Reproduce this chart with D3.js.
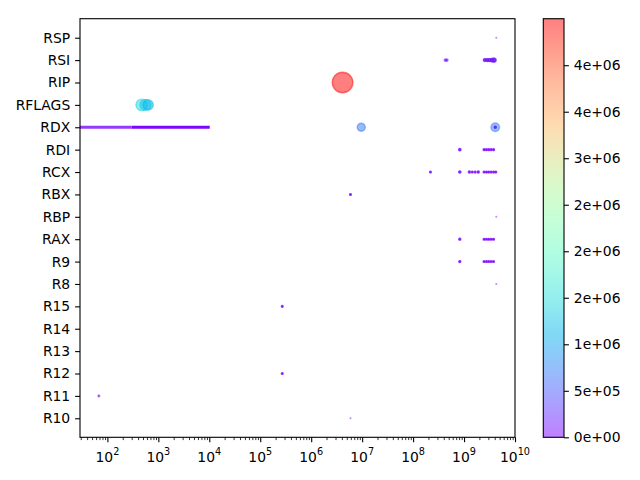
<!DOCTYPE html>
<html>
<head>
<meta charset="utf-8">
<script src="https://cdn.jsdelivr.net/npm/d3@7"></script>
<style>
    body { margin: 0; background: #fff; }
    text { font-family: "DejaVu Sans", sans-serif; fill: #000; }
</style>
</head>
<body>
<svg id="chart" width="640" height="480"></svg>
<script>
// categories, bottom to top
var registers = ["R10", "R11", "R12", "R13", "R14", "R15", "R8", "R9", "RAX",
    "RBP", "RBX", "RCX", "RDI", "RDX", "RFLAGS", "RIP", "RSI", "RSP"];

// [register, address, weight, hits]
var samples = [
    ["RSP", 4.3e9, 5e3, 1],
    ["RSI", 4.3e8, 6e4, 1], ["RSI", 4.6e8, 6e4, 1],
    ["RSI", 2.55e9, 8e4, 2], ["RSI", 2.85e9, 8e4, 2], ["RSI", 3.15e9, 1e5, 2],
    ["RSI", 3.5e9, 1.2e5, 2], ["RSI", 3.8e9, 1.5e5, 2], ["RSI", 3.95e9, 1.5e5, 1],
    ["RIP", 4.13e6, 4.5e6, 1],
    ["RFLAGS", 470, 1.4e6, 1], ["RFLAGS", 560, 1.3e6, 1], ["RFLAGS", 630, 1.15e6, 1],
    ["RDX", 9.6e6, 6.8e5, 1], ["RDX", 4.1e9, 7.8e5, 1], ["RDX", 4.1e9, 5e4, 2],
    ["RDI", 8.25e8, 5e4, 2],
    ["RDI", 2.47e9, 3e4, 2], ["RDI", 2.75e9, 3e4, 2], ["RDI", 3.05e9, 3e4, 2],
    ["RDI", 3.4e9, 3e4, 2], ["RDI", 3.8e9, 3e4, 2],
    ["RCX", 2.19e8, 3e4, 2], ["RCX", 8.25e8, 5e4, 2],
    ["RCX", 1.27e9, 4e4, 2], ["RCX", 1.45e9, 3e4, 2], ["RCX", 1.65e9, 3e4, 2], ["RCX", 1.9e9, 4e4, 2],
    ["RCX", 2.47e9, 3e4, 2], ["RCX", 2.75e9, 3e4, 2], ["RCX", 3.05e9, 3e4, 2],
    ["RCX", 3.4e9, 3e4, 2], ["RCX", 3.8e9, 3e4, 2], ["RCX", 4.2e9, 3e4, 2],
    ["RBX", 5.9e6, 3e4, 2],
    ["RBP", 4.3e9, 5e3, 1],
    ["RAX", 8.25e8, 4e4, 2],
    ["RAX", 2.47e9, 3e4, 2], ["RAX", 2.75e9, 3e4, 2], ["RAX", 3.05e9, 3e4, 2],
    ["RAX", 3.4e9, 3e4, 2], ["RAX", 3.8e9, 3e4, 2],
    ["R9", 8.25e8, 4e4, 2],
    ["R9", 2.47e9, 3e4, 2], ["R9", 2.75e9, 3e4, 2], ["R9", 3.05e9, 3e4, 2],
    ["R9", 3.4e9, 3e4, 2], ["R9", 3.8e9, 3e4, 2],
    ["R8", 4.3e9, 5e3, 1],
    ["R15", 2.7e5, 3e4, 2],
    ["R12", 2.7e5, 3e4, 2],
    ["R11", 68, 3e4, 1],
    ["R10", 5.9e6, 5e3, 1]
];

// dense run of RDX samples at low addresses: [from, to]
var rdxRunLight = [29, 300];
var rdxRunDark = [300, 10200];

var xDomain = [29, 1e10];
var xMajorTicks = [1e2, 1e3, 1e4, 1e5, 1e6, 1e7, 1e8, 1e9, 1e10];
var xTickExponents = ["2", "3", "4", "5", "6", "7", "8", "9", "10"];

var colorMax = 4.5e6;
var colorTicks = [0, 5e5, 1e6, 1.5e6, 2e6, 2.5e6, 3e6, 3.5e6, 4e6];
var colorTickLabels = ["0e+00", "5e+05", "1e+06", "2e+06", "2e+06", "2e+06", "3e+06", "4e+06", "4e+06"];

// matplotlib "rainbow" colormap
function rainbow(t) {
    t = Math.max(0, Math.min(1, t));
    var r = Math.min(1, Math.abs(2 * t - 0.5)),
        g = Math.sin(Math.PI * t),
        b = Math.cos(Math.PI * t / 2);
    return d3.rgb(r * 255, g * 255, Math.max(0, b) * 255).formatHex();
}

// plot box
var plot = {left: 80, right: 515, top: 18.7, bottom: 437.3};
var bar = {left: 543.3, right: 564, top: 18.7, bottom: 437.3};

var svg = d3.select("#chart");

// set the ranges
var x = d3.scaleLog().domain(xDomain).range([plot.left, plot.right]);
var y = d3.scalePoint().domain(registers).range([plot.bottom, plot.top]).padding(0.85);
var r = d3.scaleSqrt().domain([0, colorMax]).range([0, 10.3]);
var c = d3.scaleLinear().domain([0, colorMax]).range([0, 1]);

svg.append("defs").append("clipPath")
    .attr("id", "plotClip")
    .append("rect")
    .attr("x", plot.left).attr("y", plot.top)
    .attr("width", plot.right - plot.left)
    .attr("height", plot.bottom - plot.top);

var marks = svg.append("g").attr("clip-path", "url(#plotClip)");

// the RDX run
marks.append("line")
    .attr("x1", x(rdxRunLight[0])).attr("x2", x(rdxRunLight[1]))
    .attr("y1", y("RDX")).attr("y2", y("RDX"))
    .attr("stroke", rainbow(0.01))
    .attr("stroke-opacity", 0.8)
    .attr("stroke-width", 2.8);
marks.append("line")
    .attr("x1", x(rdxRunDark[0])).attr("x2", x(rdxRunDark[1]))
    .attr("y1", y("RDX")).attr("y2", y("RDX"))
    .attr("stroke", rainbow(0.005))
    .attr("stroke-width", 3);

// expand hits into overlapping markers
var dots = [];
samples.forEach(function (d) {
    for (var i = 0; i < d[3]; i++) dots.push({reg: d[0], addr: d[1], w: d[2]});
});

marks.selectAll("circle.pt")
    .data(dots)
    .enter().append("circle")
    .attr("class", "pt")
    .attr("cx", function (d) { return x(d.addr); })
    .attr("cy", function (d) { return y(d.reg); })
    .attr("r", function (d) { return r(d.w); })
    .attr("fill", function (d) { return rainbow(c(d.w)); })
    .attr("fill-opacity", 0.5)
    .attr("stroke", function (d) { return rainbow(c(d.w)); })
    .attr("stroke-opacity", 0.5)
    .attr("stroke-width", 1.39);

// frame
svg.append("rect")
    .attr("x", plot.left).attr("y", plot.top)
    .attr("width", plot.right - plot.left)
    .attr("height", plot.bottom - plot.top)
    .attr("fill", "none")
    .attr("stroke", "#000")
    .attr("stroke-width", 1.1);

// Add the X Axis (major and minor ticks)
var minorTicks = x.ticks().filter(function (v) {
    return Math.abs(Math.log10(v) - Math.round(Math.log10(v))) > 1e-6;
});
svg.append("g")
    .attr("transform", "translate(0," + plot.bottom + ")")
    .call(d3.axisBottom(x).tickValues(minorTicks).tickSize(2.8).tickFormat(""))
    .call(function (g) {
        g.select(".domain").remove();
        g.selectAll("line").attr("stroke-width", 0.8);
    });
var xAxis = svg.append("g")
    .attr("transform", "translate(0," + plot.bottom + ")")
    .call(d3.axisBottom(x).tickValues(xMajorTicks).tickSize(4.9).tickFormat(""));
xAxis.select(".domain").remove();
xAxis.selectAll("line").attr("stroke-width", 1.1);

var xLabels = svg.append("g")
    .attr("font-size", 13.9)
    .attr("text-anchor", "middle");
xMajorTicks.forEach(function (v, i) {
    var t = xLabels.append("text")
        .attr("x", x(v))
        .attr("y", 462);
    t.append("tspan").text("10");
    t.append("tspan")
        .attr("dy", -6.8)
        .attr("font-size", 9.7)
        .text(xTickExponents[i]);
});

// Add the Y Axis
var yAxis = svg.append("g")
    .attr("transform", "translate(" + plot.left + ",0)")
    .call(d3.axisLeft(y).tickSize(4.9).tickPadding(4.9));
yAxis.select(".domain").remove();
yAxis.selectAll("line").attr("stroke-width", 1.1);
yAxis.selectAll("text")
    .attr("font-family", "DejaVu Sans")
    .attr("font-size", 13.9)
    .attr("fill", "#000");

// colorbar
var cy = d3.scaleLinear().domain([0, colorMax]).range([bar.bottom, bar.top]);
var grad = svg.select("defs").append("linearGradient")
    .attr("id", "cbar")
    .attr("x1", 0).attr("y1", 1).attr("x2", 0).attr("y2", 0);
d3.range(0, 1.0001, 0.05).forEach(function (t) {
    grad.append("stop")
        .attr("offset", t)
        .attr("stop-color", rainbow(t))
        .attr("stop-opacity", 0.5);
});
svg.append("rect")
    .attr("x", bar.left).attr("y", bar.top)
    .attr("width", bar.right - bar.left)
    .attr("height", bar.bottom - bar.top)
    .attr("fill", "url(#cbar)")
    .attr("stroke", "#000")
    .attr("stroke-width", 1.1);

var cAxis = svg.append("g")
    .attr("transform", "translate(" + bar.right + ",0)")
    .call(d3.axisRight(cy).tickValues(colorTicks).tickSize(4.9).tickPadding(4.9)
        .tickFormat(function (d, i) { return colorTickLabels[i]; }));
cAxis.select(".domain").remove();
cAxis.selectAll("line").attr("stroke-width", 1.1);
cAxis.selectAll("text")
    .attr("font-family", "DejaVu Sans")
    .attr("font-size", 13.9)
    .attr("fill", "#000");
</script>
</body>
</html>
